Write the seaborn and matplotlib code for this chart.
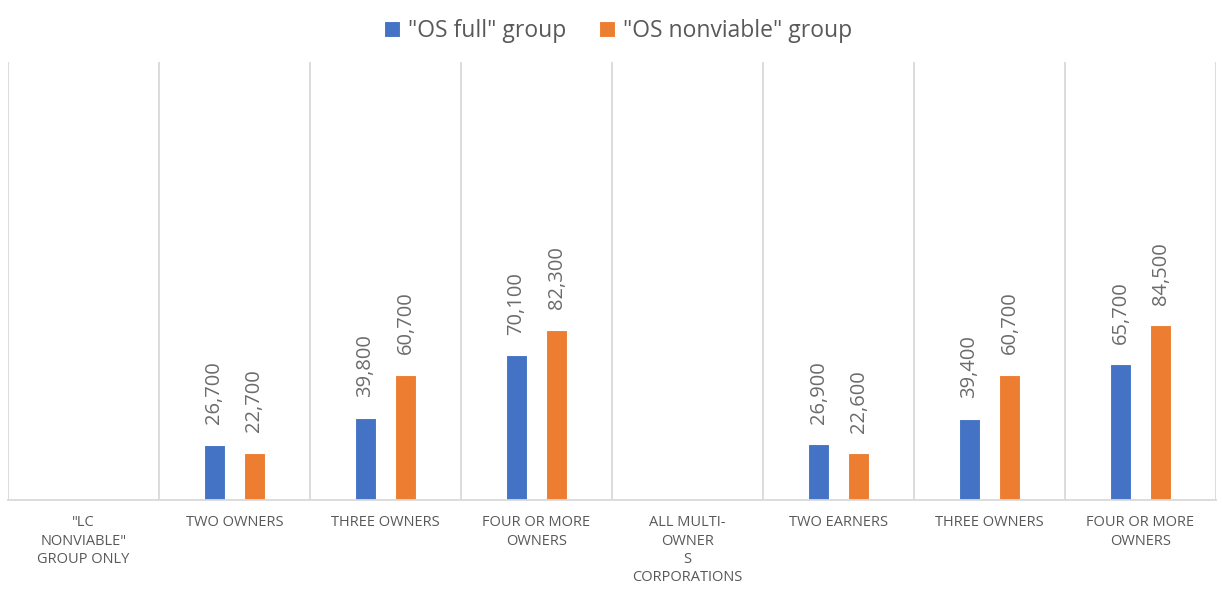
import pandas as pd
import numpy as np
import matplotlib.pyplot as plt
import seaborn as sns

categories = ['"LC\nNONVIABLE"\nGROUP ONLY', 'TWO OWNERS', 'THREE OWNERS', 'FOUR OR MORE\nOWNERS',
              'ALL MULTI-\nOWNER\nS\nCORPORATIONS', 'TWO EARNERS', 'THREE OWNERS', 'FOUR OR MORE\nOWNERS']
os_full = [np.nan, 26700, 39800, 70100, np.nan, 26900, 39400, 65700]
os_nonviable = [np.nan, 22700, 60700, 82300, np.nan, 22600, 60700, 84500]
series = ['"OS full" group', '"OS nonviable" group']
colors = ['#4472C4', '#ED7D31']

# long form table, position index keeps duplicate names apart
df = pd.DataFrame({
    'pos': list(range(len(categories))) * 2,
    'value': os_full + os_nonviable,
    'group': [series[0]] * len(categories) + [series[1]] * len(categories),
})

sns.set_style('white')
plt.rcParams['font.family'] = ['Open Sans', 'DejaVu Sans']

fig = plt.figure(figsize=(12.25, 5.97), dpi=100)
ax = fig.add_axes([0.0065, 0.1625, 0.9862, 0.7335])

sns.barplot(data=df, x='pos', y='value', hue='group', palette=colors, order=range(len(categories)),
            width=0.53, gap=0.475, errorbar=None, saturation=1, edgecolor='white', linewidth=0.8, ax=ax)

for p in ax.patches:
    h = p.get_height()
    if np.isfinite(h) and h > 0:
        ax.text(p.get_x() + p.get_width() / 2., h + 10000, f'{int(h):,}', rotation=90,
                ha='center', va='bottom', fontsize=14.5, color='#6b6b6b')

ax.set_ylim(0, 212000)
ax.set_xlim(-0.5, len(categories) - 0.5)
ax.set_yticks([])
ax.set_xticks(range(len(categories)))
ax.set_xticklabels(categories, fontsize=10.5, color='#595959', linespacing=1.3)
ax.tick_params(axis='x', length=0, pad=11)
ax.set_xticks(np.arange(-0.5, len(categories)), minor=True)
ax.tick_params(axis='x', which='minor', length=0)
ax.grid(axis='x', which='minor', color='#d9d9d9', linewidth=1.3)
ax.grid(axis='x', which='major', visible=False)
ax.set_xlabel('')
ax.set_ylabel('')
for s in ['top', 'left', 'right']:
    ax.spines[s].set_visible(False)
ax.spines['bottom'].set_color('#d9d9d9')
ax.spines['bottom'].set_linewidth(1.3)

handles, labels = ax.get_legend_handles_labels()
ax.legend(handles, labels, loc='lower center', bbox_to_anchor=(0.505, 0.997), ncol=2, frameon=False,
          fontsize=16.5, labelcolor='#595959', handlelength=0.7, handleheight=0.7,
          handletextpad=0.35, columnspacing=1.4)

fig.savefig('out.png', dpi=100)
